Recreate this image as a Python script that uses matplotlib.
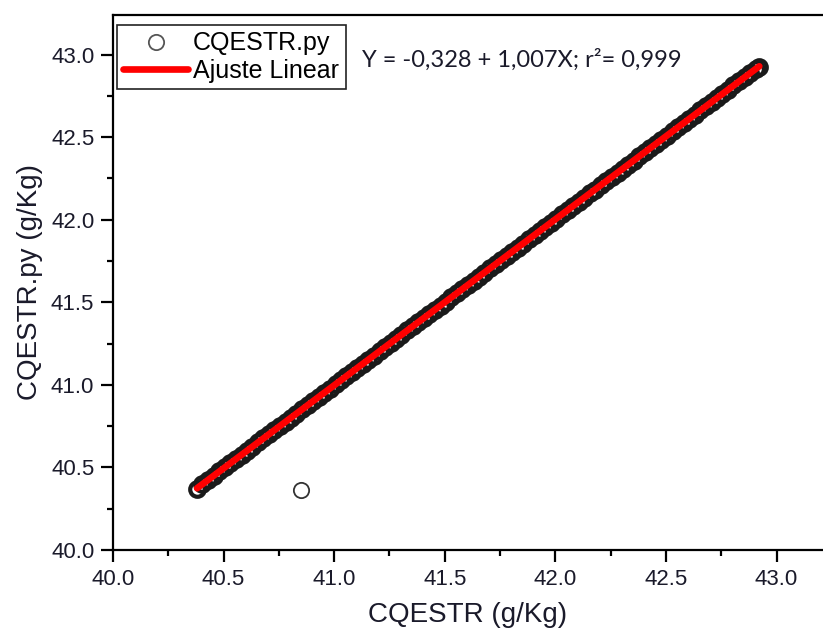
import numpy as np
import matplotlib
matplotlib.use("Agg")
import matplotlib.pyplot as plt
from matplotlib.ticker import MultipleLocator, FormatStrFormatter

# CQESTR observed vs CQESTR.py values (g/Kg); last pair is the outlier
cq_obs = [
    40.380, 40.404, 40.431, 40.455, 40.480, 40.506, 40.529, 40.555, 40.581, 40.604,
    40.630, 40.655, 40.679, 40.706, 40.730, 40.754, 40.781, 40.805, 40.829, 40.856,
    40.880, 40.904, 40.931, 40.955, 40.979, 41.006, 41.030, 41.055, 41.080, 41.104,
    41.131, 41.155, 41.179, 41.205, 41.230, 41.256, 41.280, 41.304, 41.331, 41.355,
    41.380, 41.404, 41.430, 41.455, 41.481, 41.504, 41.530, 41.556, 41.580, 41.604,
    41.631, 41.655, 41.679, 41.705, 41.730, 41.755, 41.781, 41.804, 41.830, 41.855,
    41.880, 41.906, 41.929, 41.955, 41.980, 42.004, 42.031, 42.055, 42.080, 42.105,
    42.129, 42.156, 42.180, 42.205, 42.230, 42.254, 42.281, 42.305, 42.330, 42.354,
    42.380, 42.406, 42.430, 42.455, 42.479, 42.505, 42.531, 42.555, 42.580, 42.604,
    42.630, 42.655, 42.680, 42.706, 42.730, 42.754, 42.780, 42.805, 42.830, 42.856,
    42.880, 42.905, 42.922, 40.848,
]
cq_py = [
    40.372, 40.399, 40.425, 40.451, 40.476, 40.502, 40.526, 40.551, 40.578, 40.601,
    40.626, 40.652, 40.676, 40.702, 40.727, 40.751, 40.778, 40.802, 40.826, 40.853,
    40.877, 40.901, 40.928, 40.952, 40.977, 41.003, 41.027, 41.053, 41.078, 41.102,
    41.129, 41.153, 41.177, 41.203, 41.228, 41.254, 41.279, 41.302, 41.330, 41.354,
    41.379, 41.403, 41.429, 41.454, 41.480, 41.503, 41.530, 41.555, 41.580, 41.603,
    41.631, 41.655, 41.679, 41.705, 41.731, 41.755, 41.782, 41.804, 41.831, 41.856,
    41.881, 41.907, 41.930, 41.957, 41.982, 42.006, 42.033, 42.057, 42.083, 42.108,
    42.132, 42.159, 42.183, 42.208, 42.233, 42.258, 42.285, 42.309, 42.334, 42.358,
    42.384, 42.411, 42.435, 42.460, 42.484, 42.510, 42.537, 42.561, 42.586, 42.610,
    42.637, 42.662, 42.687, 42.713, 42.738, 42.762, 42.788, 42.814, 42.839, 42.865,
    42.889, 42.914, 42.928, 40.364,
]
equation = "Y = -0,328 + 1,007X; r\u00b2= 0,999"

plt.rcParams['font.family'] = ['Liberation Sans', 'DejaVu Sans']

fig = plt.figure(figsize=(8.23, 6.32), dpi=100)
ax = fig.add_axes([113/823, 82/632, 1 - 113/823, (550-15)/632])

x = np.array(cq_obs)
y = np.array(cq_py)

# the dense run of points overlaps into a solid dark band
ax.plot(x[:-1], y[:-1], 'o', markersize=10.5, markerfacecolor='none',
        markeredgecolor='#1a1a1a', markeredgewidth=3.0, label='CQESTR.py', zorder=2)
ax.plot(x[-1:], y[-1:], 'o', markersize=11, markerfacecolor='none',
        markeredgecolor='#333333', markeredgewidth=1.3, zorder=2)

# linear fit over the main set (outlier left out)
coef = np.polyfit(x[:-1], y[:-1], 1)
fx = np.array([x[:-1].min(), x[:-1].max()])
ax.plot(fx, np.polyval(coef, fx), '-', color='#ff0000', linewidth=4.8,
        solid_capstyle='round', label='Ajuste Linear', zorder=3)

ax.set_xlim(40.0, 43.21)
ax.set_ylim(40.0, 43.24)
ax.xaxis.set_major_locator(MultipleLocator(0.5))
ax.yaxis.set_major_locator(MultipleLocator(0.5))
ax.xaxis.set_minor_locator(MultipleLocator(0.25))
ax.yaxis.set_minor_locator(MultipleLocator(0.25))
ax.xaxis.set_major_formatter(FormatStrFormatter('%.1f'))
ax.yaxis.set_major_formatter(FormatStrFormatter('%.1f'))

ax.spines['right'].set_visible(False)
for s in ['left', 'bottom', 'top']:
    ax.spines[s].set_linewidth(1.6)
ax.tick_params(which='major', direction='out', length=8.5, width=1.6,
               labelsize=16, pad=5, labelcolor='#1a1a2a')
ax.tick_params(which='minor', direction='out', length=4.3, width=1.6)
ax.tick_params(top=False, right=False, which='both')

ax.set_xlabel('CQESTR (g/Kg)', fontsize=20, color='#1a1a2a', labelpad=9)
ax.set_ylabel('CQESTR.py (g/Kg)', fontsize=20, color='#1a1a2a', labelpad=6)

leg = ax.legend(loc='upper left', bbox_to_anchor=(117/823, 1 - 25/632),
                bbox_transform=fig.transFigure, borderaxespad=0,
                fontsize=18, frameon=True, fancybox=False, edgecolor='#222222',
                framealpha=1, handlelength=2.6, handletextpad=0.2,
                labelspacing=0.15, borderpad=0.25)
leg.get_frame().set_linewidth(1.2)
for h in leg.legend_handles:
    if h.get_marker() == 'o':
        h.set_markeredgecolor('#555555')
        h.set_markeredgewidth(1.3)
        h.set_markersize(11)

fig.text(362/823, 1 - 60/632, equation, fontsize=17, family=['Lato', 'DejaVu Sans'],
         color='#1a1a2a', va='center', ha='left')

fig.savefig('out.png', dpi=100)
